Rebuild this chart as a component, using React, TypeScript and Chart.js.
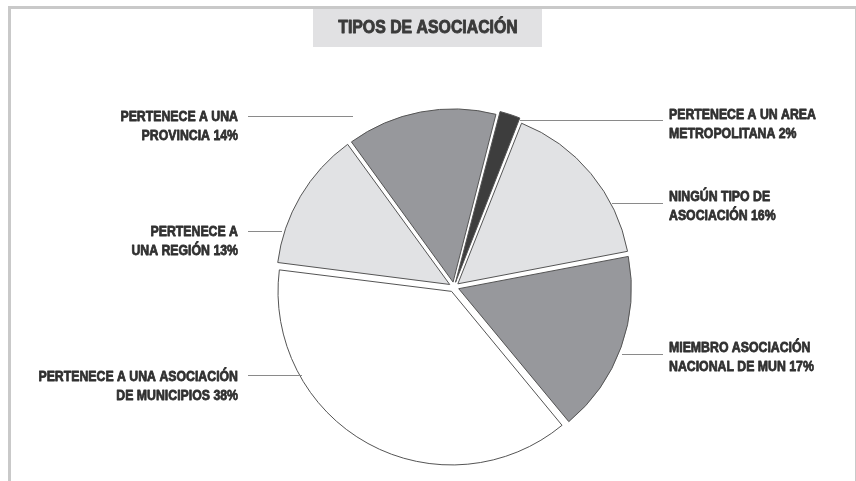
import React, { useEffect, useRef } from "react";
import { Chart, registerables } from "chart.js";

Chart.register(...registerables);

const title = "TIPOS DE ASOCIACIÓN";
const categories = [
  "PERTENECE A UNA PROVINCIA",
  "PERTENECE A UN AREA METROPOLITANA",
  "NINGÚN TIPO DE ASOCIACIÓN",
  "MIEMBRO ASOCIACIÓN NACIONAL DE MUN",
  "PERTENECE A UNA ASOCIACIÓN DE MUNICIPIOS",
  "PERTENECE A UNA REGIÓN",
];
const values = [14, 2, 16, 17, 38, 13];
const labelLines = [
  ["PERTENECE A UNA", "PROVINCIA"],
  ["PERTENECE A UN AREA", "METROPOLITANA"],
  ["NINGÚN TIPO DE", "ASOCIACIÓN"],
  ["MIEMBRO ASOCIACIÓN", "NACIONAL DE MUN"],
  ["PERTENECE A UNA ASOCIACIÓN", "DE MUNICIPIOS"],
  ["PERTENECE A", "UNA REGIÓN"],
];
const sliceColors = ["#97989c", "#3d3d3d", "#e1e2e4", "#97989c", "#ffffff", "#e1e2e4"];

// label layout: side, text anchor x, first line y, leader line y, leader x range
const labelLayout = [
  { side: "left", tx: 238, ty: 117, ly: 116, x1: 248, x2: 353 },
  { side: "right", tx: 669, ty: 115, ly: 120, x1: 520, x2: 663 },
  { side: "right", tx: 669, ty: 197, ly: 203, x1: 612, x2: 663 },
  { side: "right", tx: 669, ty: 348, ly: 354, x1: 622, x2: 663 },
  { side: "left", tx: 238, ty: 377, ly: 375, x1: 248, x2: 302 },
  { side: "left", tx: 238, ty: 232, ly: 231, x1: 248, x2: 282 },
];

const FONT = "'Liberation Sans', Arial, sans-serif";

function heavyText(ctx: any, t: string, w: number) {
  ctx.lineWidth = w;
  ctx.lineJoin = "round";
  ctx.strokeText(t, 0, 0);
  ctx.fillText(t, 0, 0);
}

const framePlugin = {
  id: "frame",
  beforeDraw(chart: any) {
    const ctx = chart.ctx;
    ctx.save();
    ctx.fillStyle = "#ffffff";
    ctx.fillRect(0, 0, chart.width, chart.height);
    ctx.fillStyle = "#c9c9c9";
    ctx.fillRect(8, 6, 848, 3);
    ctx.fillRect(8, 6, 3, chart.height - 6);
    ctx.fillRect(855, 6, 1, chart.height - 6);
    // title box
    ctx.fillStyle = "#e1e1e3";
    ctx.fillRect(313, 9, 229, 38);
    ctx.fillStyle = "#3a3a3a";
    ctx.strokeStyle = "#3a3a3a";
    ctx.font = `bold 18px ${FONT}`;
    ctx.textAlign = "center";
    ctx.textBaseline = "middle";
    ctx.translate(428, 28);
    ctx.scale(0.88, 1);
    heavyText(ctx, title, 0.9);
    ctx.restore();
  },
  afterDraw(chart: any) {
    const ctx = chart.ctx;
    ctx.save();
    labelLayout.forEach((l, i) => {
      ctx.strokeStyle = "#8a8a8a";
      ctx.lineWidth = 1;
      ctx.beginPath();
      ctx.moveTo(l.x1, l.ly + 0.5);
      ctx.lineTo(l.x2, l.ly + 0.5);
      ctx.stroke();
      const lines = [labelLines[i][0], `${labelLines[i][1]} ${values[i]}%`];
      ctx.fillStyle = "#303030";
      ctx.strokeStyle = "#303030";
      ctx.font = `bold 15px ${FONT}`;
      ctx.textBaseline = "middle";
      ctx.textAlign = l.side === "left" ? "right" : "left";
      lines.forEach((t, j) => {
        ctx.save();
        ctx.translate(l.tx, l.ty + j * 19);
        ctx.scale(0.82, 1);
        heavyText(ctx, t, 0.8);
        ctx.restore();
      });
    });
    ctx.restore();
  },
};

export default function App() {
  const ref = useRef<HTMLCanvasElement | null>(null);
  useEffect(() => {
    if (!ref.current) return;
    const chart = new Chart(ref.current, {
      type: "pie",
      data: {
        labels: categories,
        datasets: [
          {
            data: values,
            backgroundColor: sliceColors,
            borderColor: "#555555",
            borderWidth: 1,
            offset: 20,
            hoverOffset: 0,
          },
        ],
      },
      options: {
        responsive: false,
        animation: false,
        rotation: -36,
        radius: 172,
        layout: { padding: { left: 52, right: 0, top: 93, bottom: 0 } },
        plugins: {
          legend: { display: false },
          tooltip: { enabled: false },
          title: { display: false },
        },
        events: [],
      },
      plugins: [framePlugin],
    });
    return () => chart.destroy();
  }, []);
  return (
    <div style={{ position: "fixed", left: 0, top: 0, width: 856, height: 481, background: "#fff" }}>
      <canvas ref={ref} width={856} height={481} />
    </div>
  );
}
